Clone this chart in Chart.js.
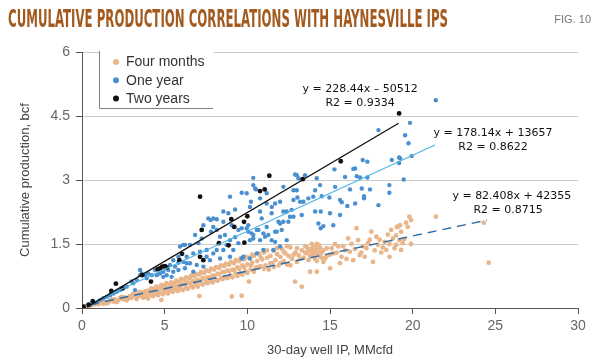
<!DOCTYPE html>
<html lang="en">
  <head>
    <meta charset="UTF-8" />
    <title>Cumulative production correlations with Haynesville IPs</title>
    <script src="https://cdn.jsdelivr.net/npm/chart.js@4.4.1/dist/chart.umd.min.js"></script>
    <style>
      html,
      body {
        margin: 0;
        padding: 0;
        background: #ffffff;
      }
      .chart-wrapper {
        position: relative;
        width: 600px;
        height: 361px;
      }
    </style>
  </head>
  <body>
    <div class="chart-wrapper">
      <canvas id="ipChart"></canvas>
    </div>

    <script>
      // series labels + axis ticks
      const seriesLabels = ["Four months", "One year", "Two years"];
      const xTicks = [0, 5, 10, 15, 20, 25, 30];
      const yTicks = [0, 1.5, 3, 4.5, 6];

      // four months: [IP MMcfd, cumulative bcf]
      const fourMonths = [
        [0.1, 0.02], [0.2, 0.04], [0.3, 0.03], [0.4, 0.06], [0.5, 0.05], [0.7, 0.08], [0.8, 0.1],
        [1.0, 0.09], [1.1, 0.12], [1.3, 0.1], [1.4, 0.14], [1.6, 0.13], [1.7, 0.17], [1.9, 0.15],
        [2.0, 0.2], [2.2, 0.18], [2.3, 0.23], [2.5, 0.2], [2.6, 0.25], [2.8, 0.22], [2.9, 0.28],
        [3.0, 0.24], [3.2, 0.3], [3.3, 0.26], [3.4, 0.33], [3.5, 0.28], [3.6, 0.36], [3.7, 0.3],
        [3.8, 0.38], [3.9, 0.26], [4.0, 0.34], [4.1, 0.42], [4.2, 0.3], [4.3, 0.38], [4.4, 0.45],
        [4.5, 0.33], [4.6, 0.4], [4.7, 0.48], [4.8, 0.19], [4.8, 0.36], [4.9, 0.44], [5.0, 0.52],
        [5.1, 0.38], [5.2, 0.46], [5.3, 0.55], [5.4, 0.4], [5.5, 0.5], [5.6, 0.58], [5.7, 0.43],
        [5.8, 0.52], [5.9, 0.62], [6.0, 0.45], [6.1, 0.56], [6.2, 0.66], [6.3, 0.48], [6.4, 0.6],
        [6.5, 0.7], [6.6, 0.52], [6.7, 0.63], [6.8, 0.74], [6.9, 0.55], [7.0, 0.66], [7.1, 0.28],
        [7.1, 0.78], [7.2, 0.58], [7.3, 0.7], [7.4, 0.82], [7.5, 0.6], [7.6, 0.72], [7.7, 0.86],
        [7.8, 0.64], [7.9, 0.76], [8.0, 0.9], [8.1, 0.66], [8.2, 0.8], [8.3, 0.94], [8.4, 0.7],
        [8.5, 0.84], [8.6, 0.98], [8.7, 0.72], [8.8, 0.88], [8.9, 1.02], [9.0, 0.76], [9.06, 0.27],
        [9.1, 0.9], [9.2, 1.05], [9.3, 0.8], [9.4, 0.95], [9.5, 1.1], [9.6, 0.82], [9.66, 0.29],
        [9.7, 1.0], [9.8, 1.14], [9.9, 0.86], [10.0, 1.02], [10.1, 0.62], [10.1, 1.18], [10.2, 0.9],
        [10.3, 1.06], [10.4, 1.22], [10.5, 0.94], [10.6, 1.1], [10.7, 1.28], [10.8, 0.98],
        [10.9, 1.14], [11.0, 1.3], [11.1, 1.0], [11.2, 1.18], [11.3, 0.9], [11.4, 1.22],
        [11.5, 1.05], [11.6, 1.34], [11.7, 1.12], [11.8, 1.26], [11.9, 1.0], [12.0, 1.2],
        [12.1, 1.38], [12.2, 1.1], [12.3, 1.28], [12.4, 1.02], [12.5, 1.22], [12.6, 1.42],
        [12.7, 1.15], [12.89, 0.62], [12.9, 1.3], [13.0, 1.08], [13.1, 1.24], [13.29, 0.5],
        [13.3, 1.35], [13.4, 1.18], [13.5, 1.45], [13.6, 1.28], [13.7, 1.12], [13.79, 0.85],
        [13.8, 1.38], [13.9, 1.5], [14.0, 1.22], [14.0, 1.32], [14.1, 1.42], [14.1, 1.15],
        [14.2, 0.85], [14.2, 1.28], [14.3, 1.48], [14.3, 1.36], [14.4, 1.2], [14.5, 1.3],
        [14.6, 1.08], [14.7, 1.16], [14.8, 1.4], [15.0, 0.93], [15.0, 1.25], [15.2, 1.28],
        [15.3, 1.5], [15.5, 1.44], [15.6, 1.05], [15.7, 1.2], [15.9, 1.35], [16.1, 1.63],
        [16.2, 1.32], [16.4, 1.12], [16.6, 1.87], [16.7, 1.59], [16.8, 1.24], [17.0, 1.45],
        [17.1, 1.2], [17.2, 1.4], [17.4, 1.6], [17.5, 1.79], [17.6, 1.08], [17.8, 1.67],
        [17.9, 1.48], [18.1, 1.3], [18.3, 1.55], [18.4, 1.36], [18.5, 1.72], [18.6, 1.2],
        [18.7, 1.83], [18.8, 1.63], [18.9, 1.4], [19.0, 1.48], [19.04, 1.9], [19.1, 1.9],
        [19.2, 1.59], [19.24, 1.94], [19.3, 1.36], [19.3, 1.79], [19.4, 1.52], [19.7, 1.9],
        [19.8, 2.14], [19.9, 2.06], [19.9, 1.5], [21.4, 2.14], [24.3, 2.0], [24.6, 1.06],
        [1.2, 0.16], [1.5, 0.11], [1.8, 0.2], [2.1, 0.14], [2.4, 0.26], [2.7, 0.18], [3.1, 0.33],
        [3.3, 0.21], [3.5, 0.38], [3.7, 0.24], [3.9, 0.4], [4.0, 0.22], [4.2, 0.46], [4.3, 0.28],
        [4.5, 0.5], [4.6, 0.3], [4.8, 0.54], [4.9, 0.32], [5.0, 0.42], [5.1, 0.58], [5.2, 0.34],
        [5.3, 0.44], [5.4, 0.6], [5.5, 0.38], [5.6, 0.48], [5.7, 0.64], [5.8, 0.4], [5.9, 0.5],
        [6.0, 0.68], [6.1, 0.42], [6.2, 0.55], [6.3, 0.72], [6.4, 0.45], [6.5, 0.58], [6.6, 0.76],
        [6.7, 0.48], [6.8, 0.62], [6.9, 0.8], [7.0, 0.5], [7.1, 0.64], [7.2, 0.84], [7.3, 0.55],
        [7.4, 0.68], [7.5, 0.88], [7.6, 0.58], [7.7, 0.72], [7.8, 0.92], [7.9, 0.6], [8.0, 0.75],
        [8.1, 0.96], [8.2, 0.64], [8.3, 0.8], [8.4, 1.0], [8.5, 0.68], [8.6, 0.84], [8.7, 1.04],
        [8.8, 0.7], [8.9, 0.86], [9.0, 1.08], [9.1, 0.72], [9.2, 0.88], [9.3, 1.12], [9.4, 0.75],
        [9.5, 0.92], [9.6, 1.16], [9.7, 0.78], [9.8, 0.95], [9.9, 1.2], [10.0, 0.82], [10.2, 1.0],
        [10.3, 1.25], [10.4, 0.85], [10.6, 0.96], [10.8, 1.2], [11.0, 0.92], [11.2, 1.35],
        [11.4, 1.05], [11.6, 0.96], [11.8, 1.4], [12.0, 1.05], [12.2, 1.32], [12.4, 1.45],
        [12.6, 1.0], [12.8, 1.25], [13.0, 1.4], [13.2, 1.15], [13.5, 1.3], [13.6, 1.42],
        [13.7, 1.36], [13.8, 1.22], [13.9, 1.3], [14.0, 1.45], [14.0, 1.4], [14.1, 1.36],
        [14.2, 1.5], [14.2, 1.1], [14.3, 1.25], [14.4, 1.42], [14.5, 1.18], [14.6, 1.35],
        [14.8, 1.22], [15.1, 1.4], [15.4, 1.3], [15.8, 1.45], [16.0, 1.15], [16.3, 1.5],
        [16.5, 1.38], [16.9, 1.3], [17.3, 1.52], [17.7, 1.35], [18.0, 1.6], [18.2, 1.42],
        [18.6, 1.5], [19.0, 1.7], [19.5, 1.62], [19.6, 2.0],
      ];

      // one year
      const oneYear = [
        [0.5, 0.08], [0.79, 0.12], [1.09, 0.19], [1.29, 0.23], [1.49, 0.26], [1.69, 0.3], [1.9, 0.34],
        [2.1, 0.38], [2.3, 0.42], [2.5, 0.46], [2.7, 0.5], [3.0, 0.62], [3.1, 0.58], [3.21, 0.42],
        [3.31, 0.66], [3.51, 0.89], [3.51, 0.77], [3.61, 0.81], [3.81, 0.77], [3.91, 0.7],
        [4.01, 0.81], [4.22, 0.77], [4.42, 0.89], [4.52, 0.77], [4.72, 0.81], [4.82, 0.97],
        [4.92, 0.85], [4.92, 0.73], [5.12, 0.77], [5.22, 0.89], [5.32, 1.01], [5.42, 0.73],
        [5.52, 0.85], [5.52, 1.12], [5.63, 0.97], [5.83, 0.89], [5.83, 1.2], [5.83, 1.06],
        [5.93, 1.44], [6.13, 1.48], [6.13, 1.08], [6.23, 1.48], [6.23, 0.93], [6.33, 1.2],
        [6.33, 1.05], [6.53, 1.48], [6.53, 1.05], [6.73, 1.28], [6.73, 0.85], [6.84, 1.71],
        [6.94, 1.01], [7.04, 1.52], [7.14, 1.32], [7.24, 1.63], [7.34, 1.94], [7.34, 0.97],
        [7.54, 1.36], [7.54, 1.2], [7.64, 2.1], [7.74, 1.12], [7.78, 2.06], [7.8, 1.79],
        [7.94, 2.1], [7.94, 1.9], [7.94, 1.28], [8.15, 2.08], [8.15, 1.83], [8.15, 1.36],
        [8.35, 1.67], [8.35, 1.16], [8.55, 2.26], [8.55, 2.02], [8.55, 1.36], [8.65, 1.71],
        [8.75, 1.48], [8.85, 2.22], [8.95, 2.61], [8.95, 1.59], [8.95, 1.2], [9.06, 1.94],
        [9.15, 1.36], [9.26, 2.31], [9.26, 1.66], [9.46, 1.83], [9.46, 1.52], [9.66, 2.7],
        [9.66, 1.87], [9.66, 1.16], [9.76, 1.2], [9.96, 2.69], [9.96, 1.87], [10.06, 1.79],
        [10.06, 1.94], [10.16, 2.37], [10.16, 1.59], [10.16, 1.16], [10.22, 2.49], [10.26, 1.75],
        [10.36, 3.05], [10.36, 2.88], [10.36, 1.71], [10.36, 1.63], [10.47, 2.8], [10.53, 2.78],
        [10.57, 1.83], [10.57, 1.28], [10.67, 1.83], [10.77, 2.57], [10.77, 2.26], [10.77, 1.59],
        [10.87, 2.1], [10.97, 1.75], [10.97, 1.36], [11.07, 1.67], [11.17, 2.69], [11.17, 2.45],
        [11.17, 1.9], [11.27, 1.71], [11.47, 2.22], [11.47, 1.59], [11.48, 2.37], [11.57, 1.36],
        [11.68, 2.45], [11.68, 1.79], [11.68, 1.55], [11.78, 1.79], [11.88, 2.02], [11.98, 2.49],
        [11.98, 1.98], [11.98, 1.44], [12.08, 1.83], [12.18, 2.84], [12.18, 2.26], [12.18, 2.02],
        [12.38, 2.26], [12.38, 1.59], [12.48, 2.02], [12.58, 2.14], [12.68, 2.3], [12.79, 2.76],
        [12.79, 2.53], [12.79, 2.14], [12.89, 3.13], [12.99, 3.11], [12.99, 2.76], [13.03, 2.59],
        [13.09, 3.04], [13.19, 2.49], [13.29, 2.18], [13.39, 2.49], [13.49, 3.11], [13.69, 2.57],
        [13.99, 2.61], [14.1, 2.76], [14.1, 2.26], [14.2, 3.04], [14.3, 1.98], [14.4, 2.88],
        [14.44, 2.26], [14.44, 1.87], [14.5, 2.62], [14.6, 1.92], [14.96, 2.59], [15.0, 2.22],
        [15.2, 1.94], [15.27, 3.25], [15.31, 2.84], [15.61, 2.53], [15.61, 2.18], [15.71, 2.48],
        [15.91, 3.07], [16.05, 2.39], [16.21, 2.78], [16.41, 3.26], [16.52, 3.27], [16.52, 2.45],
        [16.62, 3.09], [16.82, 3.06], [16.92, 2.8], [16.98, 3.47], [17.06, 2.62], [17.06, 2.57],
        [17.26, 3.43], [17.26, 3.06], [17.42, 2.78], [17.93, 4.17], [17.93, 2.41], [18.59, 2.88],
        [18.59, 2.7], [18.74, 3.47], [19.18, 3.53], [19.18, 3.4], [19.24, 3.51], [19.46, 3.01],
        [19.54, 4.05], [19.75, 3.86], [19.84, 4.34], [19.94, 3.56], [21.4, 4.87],
      ];

      // two years
      const twoYears = [
        [0.1, 0.03], [0.4, 0.08], [0.65, 0.16], [1.77, 0.4], [2.05, 0.57], [2.45, 0.46],
        [3.64, 0.77], [4.17, 0.62], [4.58, 0.91], [4.72, 0.93], [4.86, 0.97], [5.02, 0.98],
        [5.12, 0.95], [5.89, 1.12], [6.05, 1.27], [7.14, 2.61], [7.24, 1.83], [7.14, 1.2],
        [7.34, 1.12], [8.28, 1.52], [8.87, 1.47], [9.03, 2.08], [9.21, 1.9], [9.8, 2.02],
        [9.82, 1.53], [10.0, 2.15], [10.77, 2.74], [11.05, 2.78], [11.33, 3.1], [13.35, 3.02],
        [15.65, 3.44], [19.18, 4.56],
      ];

      // fitted lines (end points)
      const fitFourMonths = [[0.5, 0.08], [24.5, 2.06]];
      const fitOneYear = [[0.8, 0.16], [21.35, 3.82]];
      const fitTwoYears = [[0.3, 0.02], [19.15, 4.33]];

      // equation labels: [text, x, y] in data units
      const equationLabels = [
        ["y = 228.44x \u2013 50512", 16.82, 5.13],
        ["R2 = 0.9334", 16.82, 4.8],
        ["y = 178.14x + 13657", 24.86, 4.1],
        ["R2 = 0.8622", 24.86, 3.77],
        ["y = 82.408x + 42355", 26.0, 2.62],
        ["R2 = 0.8715", 25.77, 2.3],
      ];

      const colors = ["#e8b68a", "#4a8fcf", "#111111"];

      const toXY = (arr) => arr.map((p) => ({ x: p[0], y: p[1] }));

      // title, fig no., legend box, equations
      const decorPlugin = {
        id: "decor",
        afterDraw(chart) {
          const ctx = chart.ctx;
          const xs = chart.scales.x;
          const ys = chart.scales.y;
          ctx.save();

          // title
          const title = "CUMULATIVE PRODUCTION CORRELATIONS WITH HAYNESVILLE IPS";
          ctx.font = "bold 24px 'Liberation Sans Narrow', 'DejaVu Sans Condensed', sans-serif";
          ctx.fillStyle = "#a35a1f";
          ctx.textBaseline = "alphabetic";
          const w = ctx.measureText(title).width;
          ctx.save();
          ctx.translate(8, 26.5);
          ctx.scale(440 / w, 1);
          ctx.fillText(title, 0, 0);
          ctx.restore();

          ctx.font = "11px 'Liberation Sans Narrow', sans-serif";
          ctx.fillStyle = "#777";
          ctx.textAlign = "right";
          ctx.fillText("FIG. 10", 591, 23);

          // legend box (left + bottom border only)
          ctx.fillStyle = "#ffffff";
          ctx.fillRect(99.5, 52, 114, 56);
          ctx.strokeStyle = "#808080";
          ctx.lineWidth = 1;
          ctx.beginPath();
          ctx.moveTo(99.5, 51);
          ctx.lineTo(99.5, 108.5);
          ctx.lineTo(213, 108.5);
          ctx.stroke();

          ctx.textAlign = "left";
          ctx.textBaseline = "middle";
          ctx.font = "14px 'Liberation Sans', sans-serif";
          seriesLabels.forEach((lab, i) => {
            const cy = 62 + i * 18.2;
            ctx.fillStyle = colors[i];
            ctx.beginPath();
            ctx.arc(116, cy, 3, 0, Math.PI * 2);
            ctx.fill();
            ctx.fillStyle = "#333";
            ctx.fillText(lab, 126, cy + 0.5);
          });

          // equations
          ctx.font = "11px 'DejaVu Sans', sans-serif";
          ctx.fillStyle = "#111";
          ctx.textAlign = "center";
          equationLabels.forEach(([t, x, y]) => {
            ctx.fillText(t, xs.getPixelForValue(x), ys.getPixelForValue(y));
          });
          ctx.restore();
        },
      };

      new Chart(document.getElementById("ipChart"), {
        type: "scatter",
        data: {
          datasets: [
            {
              label: seriesLabels[0],
              data: toXY(fourMonths),
              backgroundColor: colors[0],
              borderWidth: 0,
              pointRadius: 2.4,
              order: 6,
            },
            {
              label: seriesLabels[1],
              data: toXY(oneYear),
              backgroundColor: colors[1],
              borderWidth: 0,
              pointRadius: 2.2,
              order: 5,
            },
            {
              label: seriesLabels[2],
              data: toXY(twoYears),
              backgroundColor: colors[2],
              borderWidth: 0,
              pointRadius: 2.4,
              order: 4,
            },
            {
              type: "line",
              label: "fit4m",
              data: toXY(fitFourMonths),
              borderColor: "#2e6ea6",
              borderWidth: 1.5,
              borderDash: [9, 6],
              pointRadius: 0,
              order: 3,
            },
            {
              type: "line",
              label: "fit1y",
              data: toXY(fitOneYear),
              borderColor: "#4db5e6",
              borderWidth: 1.2,
              pointRadius: 0,
              order: 2,
            },
            {
              type: "line",
              label: "fit2y",
              data: toXY(fitTwoYears),
              borderColor: "#111",
              borderWidth: 1.3,
              pointRadius: 0,
              order: 1,
            },
          ],
        },
        options: {
          responsive: true,
          maintainAspectRatio: false,
          animation: false,
          layout: { padding: { top: 52, right: 22, left: 0, bottom: 0 } },
          plugins: {
            legend: { display: false },
            tooltip: { enabled: false },
            title: { display: false },
          },
          scales: {
            x: {
              type: "linear",
              min: 0,
              max: 30,
              afterBuildTicks: (s) => {
                s.ticks = xTicks.map((v) => ({ value: v }));
              },
              ticks: {
                color: "#666",
                font: { family: "'Liberation Sans', sans-serif", size: 14 },
                padding: 4,
                maxRotation: 0,
              },
              grid: {
                drawOnChartArea: false,
                drawTicks: true,
                tickLength: 6,
                tickColor: "#555",
              },
              border: { color: "#555", width: 1 },
              title: {
                display: true,
                text: "30-day well IP, MMcfd",
                color: "#444",
                font: { family: "'Liberation Sans', sans-serif", size: 13 },
                padding: { top: 0, bottom: 3 },
              },
              afterFit: (s) => {
                s.height = 53;
              },
            },
            y: {
              type: "linear",
              min: 0,
              max: 6,
              afterBuildTicks: (s) => {
                s.ticks = yTicks.map((v) => ({ value: v }));
              },
              ticks: {
                color: "#666",
                font: { family: "'Liberation Sans', sans-serif", size: 14 },
                padding: 6,
              },
              grid: {
                color: "#cccccc",
                drawTicks: true,
                tickLength: 6,
                tickColor: "#555",
              },
              border: { color: "#555", width: 1 },
              title: {
                display: true,
                text: "Cumulative production, bcf",
                color: "#444",
                font: { family: "'Liberation Sans', sans-serif", size: 13 },
                padding: { top: 18, bottom: 0 },
              },
              afterFit: (s) => {
                s.width = 82;
              },
            },
          },
        },
        plugins: [decorPlugin],
      });
    </script>
  </body>
</html>
